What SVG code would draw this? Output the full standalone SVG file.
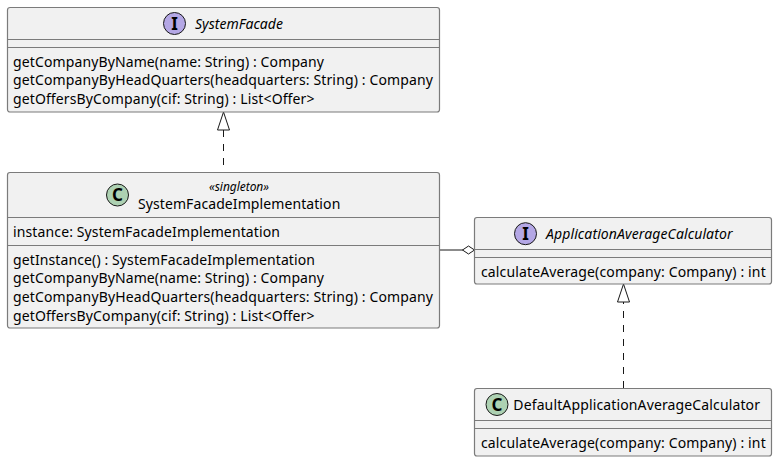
<svg xmlns="http://www.w3.org/2000/svg" width="777" height="462" viewBox="0 0 777 462">
<style>
text{font-family:"Noto Sans","DejaVu Sans",sans-serif;font-size:14px;fill:#000}
.it{font-style:italic}
.st{font-style:italic;font-size:12px}
.box{fill:#F1F1F1;stroke:#7B7B7B;stroke-width:1.2}
.sep{stroke:#7B7B7B;stroke-width:1.2;fill:none}
.ci{fill:#B4A7E5;stroke:#181818;stroke-width:1}
.cc{fill:#ADD1B2;stroke:#181818;stroke-width:1}
.gl{font-family:"Noto Sans","DejaVu Sans",sans-serif;font-weight:700;font-size:17px;text-anchor:middle}
.dash{fill:none;stroke:#181818;stroke-width:1;stroke-dasharray:7 7}
.line{fill:none;stroke:#181818;stroke-width:1}
.hol{fill:#fff;stroke:#181818;stroke-width:1}
</style>
<g id="connectors">
<path class="dash" d="M223.5 130V172"/>
<path class="hol" d="M223.5 112L217.5 130H229.5Z"/>
<path class="dash" d="M623.5 388V302"/>
<path class="hol" d="M623.5 284L617.5 302H629.5Z"/>
<path class="line" d="M439.5 250H463"/>
<path class="hol" d="M474.5 250L468.5 246L462.5 250L468.5 254Z"/>
</g>
<g id="SystemFacade">
<rect class="box" x="7.5" y="7.5" width="432" height="104.5" rx="2.5"/>
<path class="sep" d="M7.5 39.5H439.5M7.5 47.5H439.5"/>
<circle class="ci" cx="174.5" cy="23.5" r="11"/>
<text class="gl" x="174.5" y="29.5">I</text>
<text class="it" x="195" y="28.5" textLength="88">SystemFacade</text>
<text x="13" y="66.5" textLength="311">getCompanyByName(name: String) : Company</text>
<text x="13" y="85.4" textLength="420">getCompanyByHeadQuarters(headquarters: String) : Company</text>
<text x="13" y="104.3" textLength="301.5">getOffersByCompany(cif: String) : List&lt;Offer&gt;</text>
</g>
<g id="SystemFacadeImplementation">
<rect class="box" x="7.5" y="172.5" width="432" height="155.5" rx="2.5"/>
<path class="sep" d="M7.5 217.5H439.5M7.5 245.5H439.5"/>
<circle class="cc" cx="117.5" cy="195" r="11"/>
<text class="gl" x="117.5" y="201">C</text>
<text class="st" x="209" y="191" textLength="60">«singleton»</text>
<text x="138" y="209" textLength="202.3">SystemFacadeImplementation</text>
<text x="13" y="237" textLength="267">instance: SystemFacadeImplementation</text>
<text x="13" y="264.5" textLength="302">getInstance() : SystemFacadeImplementation</text>
<text x="13" y="283.4" textLength="311">getCompanyByName(name: String) : Company</text>
<text x="13" y="302.3" textLength="420">getCompanyByHeadQuarters(headquarters: String) : Company</text>
<text x="13" y="321.2" textLength="301.5">getOffersByCompany(cif: String) : List&lt;Offer&gt;</text>
</g>
<g id="ApplicationAverageCalculator">
<rect class="box" x="474.5" y="217.5" width="297" height="66.5" rx="2.5"/>
<path class="sep" d="M474.5 249.5H771.5M474.5 257.5H771.5"/>
<circle class="ci" cx="525.5" cy="233.7" r="11"/>
<text class="gl" x="525.5" y="239.5">I</text>
<text class="it" x="546" y="238.5" textLength="186.5">ApplicationAverageCalculator</text>
<text x="481" y="276.5" textLength="284.7">calculateAverage(company: Company) : int</text>
</g>
<g id="DefaultApplicationAverageCalculator">
<rect class="box" x="474.5" y="388.5" width="297" height="67.5" rx="2.5"/>
<path class="sep" d="M474.5 420.5H771.5M474.5 428.5H771.5"/>
<circle class="cc" cx="497" cy="404.5" r="11"/>
<text class="gl" x="497" y="410.5">C</text>
<text x="513.3" y="409.5" textLength="246.7">DefaultApplicationAverageCalculator</text>
<text x="481" y="448" textLength="284.7">calculateAverage(company: Company) : int</text>
</g>
</svg>
